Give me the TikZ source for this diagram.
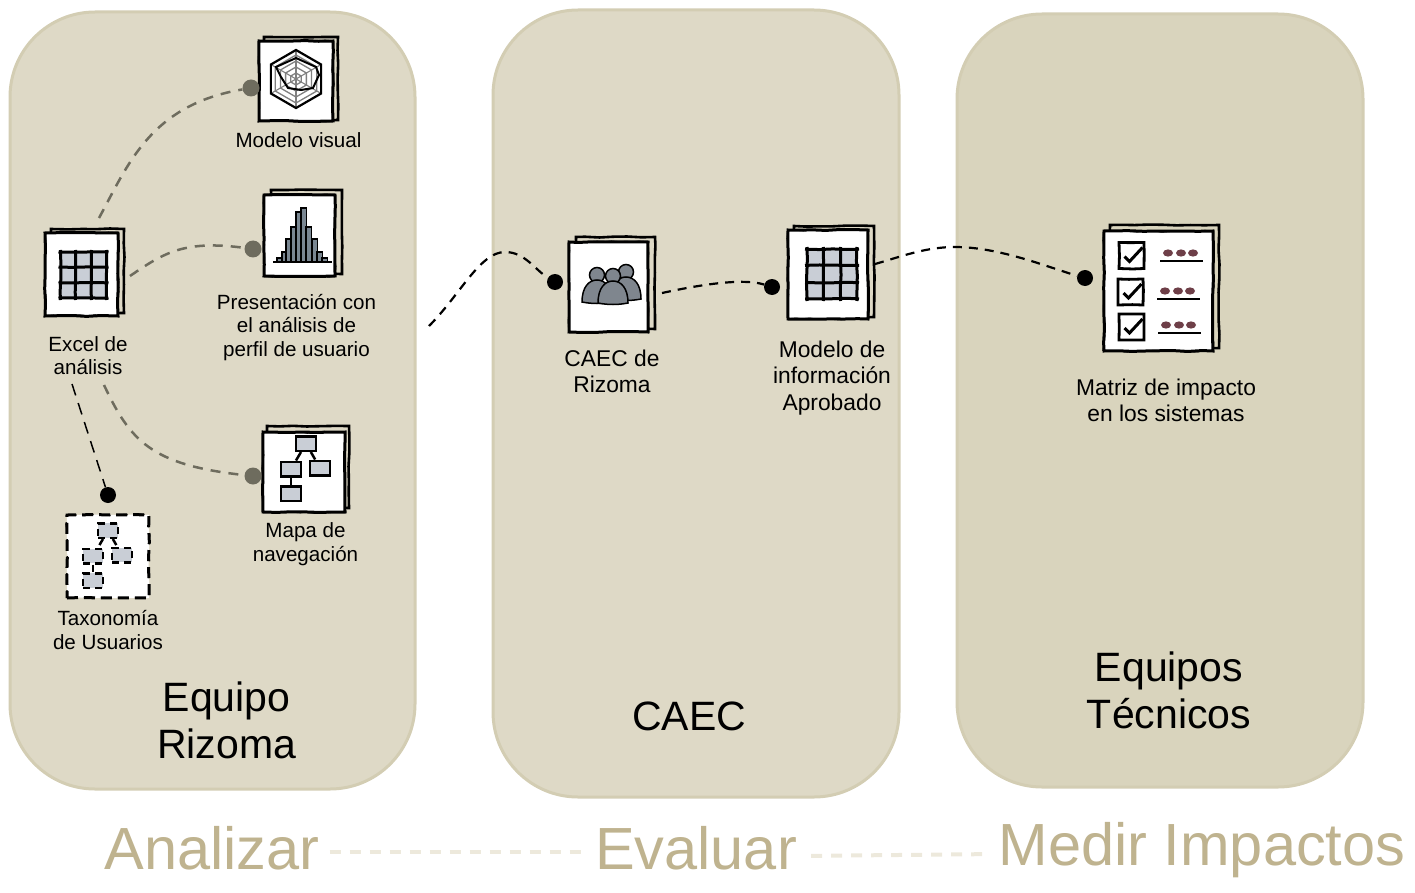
\documentclass[tikz,border=0pt]{standalone}
\usepackage{fontspec}
\setmainfont{Liberation Sans}
\usetikzlibrary{positioning, decorations.pathmorphing}

\definecolor{panelfill}{HTML}{DED9C6}
\definecolor{panelfilltwo}{HTML}{D9D4BD}
\definecolor{paneledge}{HTML}{D3CDB3}
\definecolor{stagetext}{HTML}{BFB38F}
\definecolor{stagedash}{HTML}{EDE9DC}
\definecolor{linkgray}{HTML}{6E6C5E}
\definecolor{iconfill}{HTML}{C9CED6}
\definecolor{barfill}{HTML}{7A8792}
\definecolor{peoplefill}{HTML}{7F868E}
\definecolor{blobfill}{HTML}{6E3F48}

\tikzset{
  panel/.style 2 args={draw=paneledge, line width=3pt, rounded corners=85pt, minimum width=#1, minimum height=#2, inner sep=0pt},
  sketch/.style={decorate, decoration={random steps, segment length=14pt, amplitude=0.5pt}},
  sheet/.style 2 args={draw=black, fill=white, line width=3pt, sketch, minimum width=#1, minimum height=#2, inner sep=0pt,
    postaction={draw, line width=1.4pt, decorate, decoration={random steps, segment length=9pt, amplitude=0.9pt}}},
  backsheet/.style 2 args={draw=black, line width=2.6pt, sketch, minimum width=#1, minimum height=#2, inner sep=0pt},
  smalltext/.style={font=\fontsize{20.6}{23.6}\selectfont, align=center, inner sep=0pt},
  midtext/.style={font=\fontsize{22.8}{26.2}\selectfont, align=center, inner sep=0pt},
  teamtext/.style={font=\fontsize{41}{47}\selectfont, align=center, inner sep=0pt},
  stagetitle/.style={font=\fontsize{59.5}{66}\selectfont, text=stagetext, inner sep=0pt},
  graydot/.style={circle, fill=linkgray, minimum size=17pt, inner sep=0pt},
  blackdot/.style={circle, fill=black, minimum size=16pt, inner sep=0pt},
  graylink/.style={draw=linkgray, line width=2.5pt, dash pattern=on 10pt off 8pt},
  blacklink/.style={draw=black, line width=2.2pt, dash pattern=on 9pt off 7pt},
  thinlink/.style={draw=black, line width=1.5pt, dash pattern=on 12pt off 8pt},
  stagelink/.style={draw=stagedash, line width=4pt, dash pattern=on 11pt off 9pt},
  sheetdash/.style={dash pattern=on 11pt off 6pt},
  treedash/.style={dash pattern=on 7pt off 5pt},
  treebox/.style={draw=black, fill=iconfill, line width=2.5pt, sketch, minimum width=20pt, minimum height=14.5pt, inner sep=0pt},
  pics/gridicon/.style={code={
    \fill[iconfill] (-23,-23) rectangle (23,23);
    \foreach \p in {-23,-8,8,23} {
      \draw[line width=3pt, sketch] (\p,-25) -- (\p,25);
      \draw[line width=3pt, sketch] (-25,\p) -- (25,\p);
    }
  }},
  pics/radaricon/.style={code={
    \foreach \r in {6,12,18,24} {
      \draw[gray, line width=1.3pt] (30:\r pt) -- (90:\r pt) -- (150:\r pt) -- (210:\r pt) -- (270:\r pt) -- (330:\r pt) -- cycle;
    }
    \foreach \a in {30,90,150,210,270,330} {
      \draw[gray, line width=1.1pt] (0,0) -- (\a:29pt);
    }
    \draw[black, line width=2.2pt] (30:29pt) -- (90:29pt) -- (150:29pt) -- (210:29pt) -- (270:29pt) -- (330:29pt) -- cycle;
    \draw[black, line width=2pt] (-20,-12) -- (0,-21) -- (20,-12) -- (23,-4) -- (17,9) -- (5,11) -- (-8,9) -- (-15,-2) -- cycle;
  }},
  pics/barsicon/.style={code={
    \foreach \x/\h in {-25/4,-20/10,-16/23,-11/35,-6/50,-1/54,4/35,10/23,15/10,20/4} {
      \draw[fill=barfill, line width=1.3pt] (\x,0) rectangle ++(5.4,-\h);
    }
    \draw[line width=2pt] (-29,0) -- (30,0);
  }},
  pics/treeicon/.style={code={
    \node[treebox] (-top) at (0,-25.5) {};
    \node[treebox] (-left) at (-15,0) {};
    \node[treebox] (-right) at (14,-1) {};
    \node[treebox] (-low) at (-15,24.5) {};
    \draw[line width=2.5pt] (-top) -- (-left);
    \draw[line width=2.5pt] (-top) -- (-right);
    \draw[line width=2.5pt] (-left) -- (-low);
  }},
  pics/personicon/.style={code={
    \draw[fill=peoplefill, line width=1.5pt] (0,0) circle (7.5pt);
    \draw[fill=peoplefill, line width=1.5pt] (-15,27) .. controls (-15,12) and (-8,5) .. (0,5) .. controls (8,5) and (15,12) .. (15,27) .. controls (5,29) and (-5,29) .. (-15,27) -- cycle;
  }},
  pics/checkicon/.style={code={
    \draw[line width=2.8pt, sketch] (-12.5,-13) rectangle (12.5,13);
    \draw[line width=3pt] (-7,1) -- (-2,6) -- (11,-8);
  }},
  pics/blobrow/.style={code={
    \foreach \x in {-13,0,12} {
      \fill[blobfill] (\x,0) ellipse (5pt and 3.6pt);
    }
    \draw[line width=2pt] (-21,8) -- (22,8);
  }}
}

\begin{document}
\begin{tikzpicture}[x=1pt, y=-1pt]
      \useasboundingbox (0,0) rectangle (1415,893);

      % panels
      \node[panel={405pt}{777pt}, fill=panelfill] (rizomapanel) at (212.5,400.5) {};
      \node[panel={406pt}{787pt}, fill=panelfill] (caecpanel) at (696,403.5) {};
      \node[panel={406pt}{773pt}, fill=panelfilltwo] (impactpanel) at (1160,400.5) {};

      % sheets
      \node[backsheet={74pt}{83pt}] (visualback) at (301,78.5) {};
      \node[sheet={74pt}{80pt}] (visual) at (296,81) {};
      \node[backsheet={71pt}{84pt}] (chartback) at (306.5,232) {};
      \node[sheet={71pt}{81pt}] (chart) at (299.5,235.5) {};
      \node[backsheet={73pt}{84pt}] (excelback) at (87.5,271) {};
      \node[sheet={73pt}{83pt}] (excel) at (81.5,274.5) {};
      \node[backsheet={82pt}{82pt}] (navback) at (308,467) {};
      \node[sheet={82pt}{80pt}] (nav) at (304,472) {};
      \node[sheet={82pt}{83pt}, sheetdash] (taxo) at (108,556.5) {};
      \node[backsheet={79pt}{92pt}] (caecback) at (615.5,283) {};
      \node[sheet={79pt}{90pt}] (caecsheet) at (608.5,287) {};
      \node[backsheet={80pt}{91pt}] (infoback) at (834,271.5) {};
      \node[sheet={80pt}{89pt}] (info) at (828,274.5) {};
      \node[backsheet={109pt}{123pt}] (matrixback) at (1164.5,286.5) {};
      \node[sheet={109pt}{120pt}] (matrix) at (1158.5,291) {};

      % icons
      \pic (visualradar) at (296,79) {radaricon};
      \pic (chartbars) at (302,262) {barsicon};
      \pic (excelgrid) at (83.5,275) {gridicon};
      \pic (navtree) at (306,469) {treeicon};
      \pic[treedash] (taxotree) at (108,556) {treeicon};
      \pic (caecleft) at (597,275) {personicon};
      \pic (caecright) at (626,272) {personicon};
      \pic (caecfront) at (613,276) {personicon};
      \pic[scale=1.08] (infogrid) at (832,274) {gridicon};
      \pic (checkone) at (1131.5,255.5) {checkicon};
      \pic (checktwo) at (1130.5,292) {checkicon};
      \pic (checkthree) at (1131.5,327) {checkicon};
      \pic (blobsone) at (1181,253) {blobrow};
      \pic (blobstwo) at (1178,291) {blobrow};
      \pic (blobsthree) at (1179,325) {blobrow};

      % labels
      \node[smalltext] (visualtext) at (298.5,140) {Modelo visual};
      \node[smalltext] (exceltext) at (88,355.5) {Excel de\\ análisis};
      \node[smalltext] (charttext) at (296.5,327.5) {Presentación con\\ el análisis de\\ perfil de usuario};
      \node[smalltext] (navtext) at (305.5,544) {Mapa de\\ navegación};
      \node[smalltext] (taxotext) at (108,630) {Taxonomía\\ de Usuarios};
      \node[midtext] (caectext) at (612,371.5) {CAEC de\\ Rizoma};
      \node[midtext] (infotext) at (832,378) {Modelo de\\ información\\ Aprobado};
      \node[midtext] (matrixtext) at (1166,400) {Matriz de impacto\\ en los sistemas};
      \node[teamtext] (rizomatext) at (226.5,720) {Equipo\\ Rizoma};
      \node[teamtext] (caectitle) at (689,716) {CAEC};
      \node[teamtext] (impacttext) at (1169,690) {Equipos\\ Técnicos};
      \node[stagetitle] (analizar) at (212,848) {Analizar};
      \node[stagetitle] (evaluar) at (696,848) {Evaluar};
      \node[stagetitle] (medir) at (1202,850) {Medir Impactos};

      % dots
      \node[graydot] (dotvisual) at (251,88) {};
      \node[graydot] (dotchart) at (253,249) {};
      \node[graydot] (dotnav) at (253,476) {};
      \node[blackdot] (dottaxo) at (108,495) {};
      \node[blackdot] (dotcaec) at (555,282) {};
      \node[blackdot] (dotinfo) at (772,287) {};
      \node[blackdot] (dotmatrix) at (1085,278) {};

      % free ends
      \coordinate (fromvisual) at (99,218);
      \coordinate (fromchart) at (130,276);
      \coordinate (fromnav) at (104,385);
      \coordinate (fromtaxo) at (72,384);
      \coordinate (fromrizoma) at (429,326);
      \coordinate (fromcaec) at (662,293);
      \coordinate (frominfo) at (875,264);

      \draw[graylink] (fromvisual) .. controls (128,165) and (150,105) .. (dotvisual);
      \draw[graylink] (fromchart) .. controls (165,252) and (185,240) .. (dotchart);
      \draw[graylink] (fromnav) .. controls (130,440) and (150,465) .. (dotnav);
      \draw[thinlink] (fromtaxo) -- (dottaxo);
      \draw[blacklink] (fromrizoma) .. controls (460,295) and (480,252) .. (505,252) .. controls (525,252) and (535,270) .. (dotcaec);
      \draw[blacklink] (fromcaec) .. controls (690,287) and (740,277) .. (dotinfo);
      \draw[blacklink] (frominfo) .. controls (900,257) and (925,247) .. (955,247) .. controls (1000,247) and (1050,268) .. (dotmatrix);
      \draw[stagelink, shorten <=10pt, shorten >=14pt] ([yshift=-4pt]analizar.east) -- ([yshift=-4pt]evaluar.west);
      \draw[stagelink, shorten <=14pt, shorten >=14pt] ([yshift=-8pt]evaluar.east) -- ([yshift=-4pt]medir.west);

    \end{tikzpicture}
\end{document}
